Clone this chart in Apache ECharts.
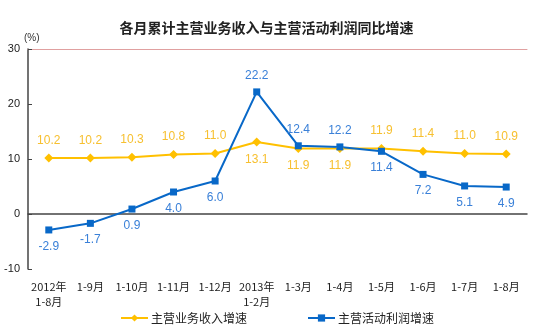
<!DOCTYPE html>
<html><head><meta charset="utf-8">
<script src="https://cdn.jsdelivr.net/npm/echarts@6/dist/echarts.min.js"></script>
<style>html,body{margin:0;padding:0;background:#fff}#c{width:533px;height:331px}</style>
</head><body><div id="c"></div>
<script>
var categories = ['2012年\n1-8月','1-9月','1-10月','1-11月','1-12月','2013年\n1-2月','1-3月','1-4月','1-5月','1-6月','1-7月','1-8月'];
var revenue = [10.2,10.2,10.3,10.8,11.0,13.1,11.9,11.9,11.9,11.4,11.0,10.9];
var profit = [-2.9,-1.7,0.9,4.0,6.0,22.2,12.4,12.2,11.4,7.2,5.1,4.9];
var yTicks = [-10,0,10,20,30];

var revBelow = [5,6,7];
var profAbove = [5,6,7];
function withPos(arr, set, dflt, alt){
  return arr.map(function(v,i){return {value:v,label:{position:set.indexOf(i)>=0?alt:dflt}};});
}
var chart = echarts.init(document.getElementById('c'));
var font = 'Liberation Sans, Arial, sans-serif';
chart.setOption({
  animation:false,
  title:{text:'各月累计主营业务收入与主营活动利润同比增速',left:'center',top:16,
    textStyle:{fontSize:14,fontWeight:'bold',color:'#222',fontFamily:'Noto Sans CJK SC'}},
  grid:{left:28,right:6,top:49,bottom:62},
  legend:{bottom:2,left:115,itemGap:60,itemWidth:27,itemHeight:9,itemStyle:{},
    textStyle:{fontSize:12,color:'#222',fontFamily:'Noto Sans CJK SC',padding:[0,0,0,-2]},
    data:['主营业务收入增速','主营活动利润增速']},
  xAxis:[{type:'category',data:categories,boundaryGap:true,
    axisLine:{lineStyle:{color:'#444',width:1.5}},
    axisTick:{inside:true,length:4,lineStyle:{color:'#444'}},
    axisLabel:{fontSize:11,color:'#222',margin:10,lineHeight:15,fontFamily:'Noto Sans CJK SC',interval:0}},
   {type:'category',position:'top',data:categories,axisLine:{show:true,lineStyle:{color:'#E0A0A0'}},
    axisTick:{show:false},axisLabel:{show:false}}],
  yAxis:{type:'value',min:yTicks[0],max:yTicks[yTicks.length-1],interval:10,
    name:'(%)',nameGap:2,nameTextStyle:{fontSize:10,color:'#333',align:'left',padding:[0,0,0,-4]},
    axisLine:{show:true,lineStyle:{color:'#444',width:1.5}},
    axisTick:{show:true,inside:true,length:4,lineStyle:{color:'#444'}},
    splitLine:{show:false},
    axisLabel:{fontSize:11,color:'#222',margin:8,fontFamily:font}},
  series:[
    {name:'主营业务收入增速',type:'line',data:withPos(revenue,revBelow,'top','bottom'),
     symbol:'diamond',symbolSize:9,itemStyle:{color:'#FFC000'},lineStyle:{color:'#FFC000',width:2},
     label:{show:true,fontSize:12,color:'#F7C030',distance:7,fontFamily:font,formatter:function(p){return p.value.toFixed(1);}}},
    {name:'主营活动利润增速',type:'line',data:withPos(profit,profAbove,'bottom','top'),
     symbol:'rect',symbolSize:7,itemStyle:{color:'#0868C8'},lineStyle:{color:'#0868C8',width:2},
     label:{show:true,fontSize:12,color:'#3A80D8',distance:7,fontFamily:font,formatter:function(p){return p.value.toFixed(1);}}}
  ]
});
</script></body></html>
